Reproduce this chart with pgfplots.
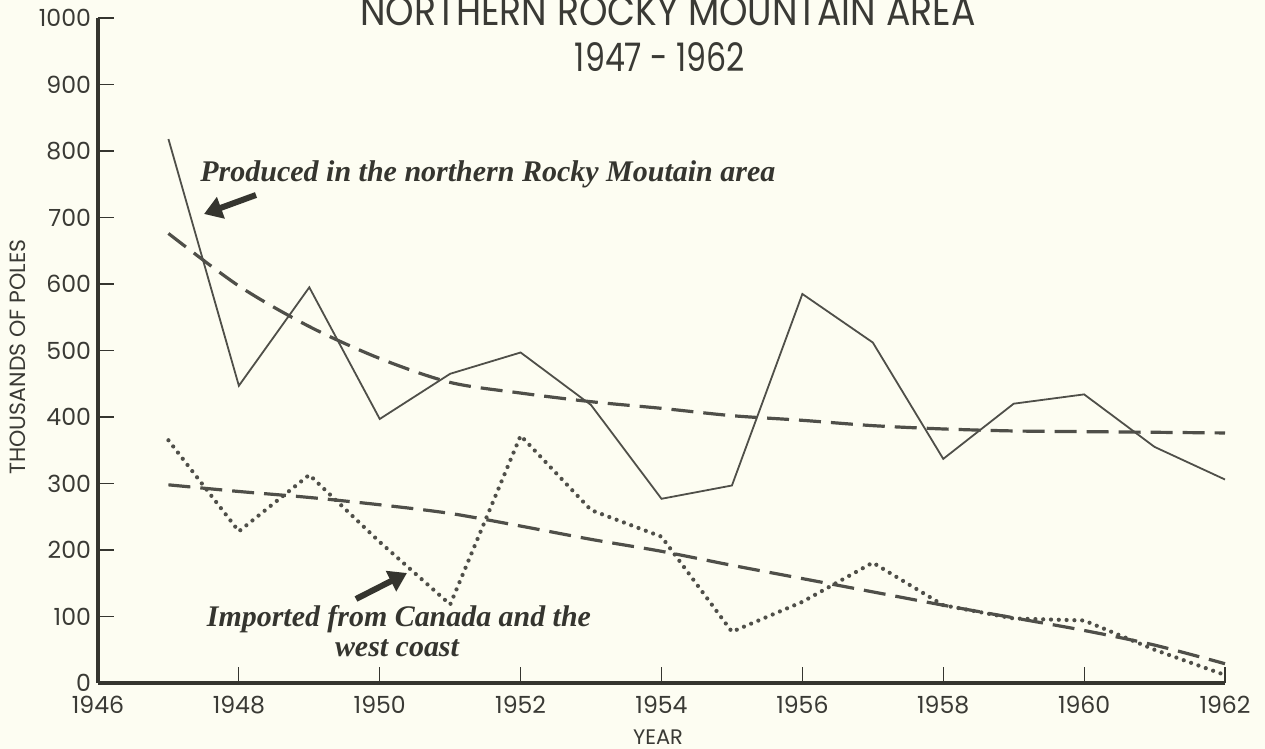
\documentclass[border=0pt]{standalone}
\usepackage{pgfplots}
\pgfplotsset{compat=1.18}
\usepackage{fontspec}
\setmainfont{Poppins}
\newfontfamily\scriptf{Liberation Serif}
\usetikzlibrary{arrows.meta}
\definecolor{bgc}{HTML}{FDFDF2}
\definecolor{axc}{HTML}{35352F}
\definecolor{linec}{HTML}{4F4F49}
\definecolor{txtc}{HTML}{3A3A35}
\definecolor{scrc}{HTML}{35352F}

\begin{document}
\begin{tikzpicture}
\begin{scope}[x=0.5pt,y=-0.5pt,shift={(-49pt,341.5pt)}]
\fill[bgc] (-5,-5) rectangle (1270,754);
\end{scope}
\begin{axis}[
  at={(0,0)}, anchor=south west, scale only axis,
  width=563.5pt, height=332.5pt,
  xmin=1946, xmax=1962, ymin=0, ymax=1000,
  axis lines=left,
  axis line style={line width=1.6pt, color=axc, -},
  xtick={1946,1948,...,1962},
  ytick={0,100,...,1000},
  tick style={line width=0.6pt, color=axc},
  major tick length=8pt, tick align=inside,
  /pgf/number format/assume math mode=true,
  /pgf/number format/1000 sep={},
  xticklabel style={font=\fontsize{11.8}{13}\selectfont, text=txtc, yshift=-3pt},
  yticklabel style={font=\fontsize{11.8}{13}\selectfont, text=txtc},
  clip=false,
]
% produced in the northern Rocky Mountain area
\addplot[color=linec, line width=0.9pt] coordinates {
 (1947,818) (1948,447) (1949,595) (1950,397) (1951,465) (1952,497)
 (1953,418) (1954,277) (1955,297) (1956,585) (1957,512) (1958,337)
 (1959,420) (1960,434) (1961,355) (1962,306)};
% trend of produced
\addplot[color=linec, line width=1.6pt, dash pattern=on 11pt off 5pt, smooth] coordinates {
 (1947,676) (1948,597) (1949,536) (1950,488) (1951,452) (1952,436)
 (1953,423) (1954,413) (1955,402) (1956,395) (1957,387) (1958,382)
 (1959,379) (1960,378) (1961,377) (1962,376)};
% imported from Canada and the west coast
\addplot[color=linec, line width=2.1pt, line cap=round, dash pattern=on 0pt off 3.9pt] coordinates {
 (1947,365) (1948,228) (1949,313) (1950,212) (1951,118) (1952,372)
 (1953,260) (1954,220) (1955,77) (1956,122) (1957,181) (1958,117)
 (1959,97) (1960,94) (1961,50) (1962,12)};
% trend of imported
\addplot[color=linec, line width=1.6pt, dash pattern=on 11pt off 5pt, smooth] coordinates {
 (1947,298) (1948,288) (1949,279) (1950,268) (1951,255) (1952,236)
 (1953,216) (1954,198) (1955,177) (1956,157) (1957,137) (1958,117)
 (1959,98) (1960,79) (1961,57) (1962,29)};
\end{axis}
\begin{scope}[x=0.5pt,y=-0.5pt,shift={(-49pt,341.5pt)}]
% titles
\node[inner sep=0pt, anchor=south, text=txtc] at (668,26)
  {\resizebox{307.5pt}{14.5pt}{NORTHERN ROCKY MOUNTAIN AREA}};
\node[inner sep=0pt, anchor=south, text=txtc] at (660,72)
  {\resizebox{85pt}{14.5pt}{1947 - 1962}};
% axis labels
\node[inner sep=0pt, rotate=90, text=txtc] at (18,357)
  {\resizebox{117.5pt}{!}{\fontsize{10}{12}\selectfont THOUSANDS OF POLES}};
\node[inner sep=0pt, text=txtc] at (658,737)
  {\fontsize{10.5}{12}\selectfont YEAR};
% annotations
\node[inner sep=0pt, anchor=base west, text=scrc] at (200,182)
  {\resizebox{287.5pt}{!}{\scriptf\bfseries\itshape Produced in the northern Rocky Moutain area}};
\node[inner sep=0pt, anchor=base, text=scrc] at (399,627)
  {\resizebox{192pt}{!}{\scriptf\bfseries\itshape Imported from Canada and the}};
\node[inner sep=0pt, anchor=base, text=scrc] at (397,657)
  {\resizebox{62pt}{!}{\scriptf\bfseries\itshape west coast}};
\draw[scrc, line width=3pt, -{Triangle[length=9pt,width=11pt]}] (256,195) -- (204,214);
\draw[scrc, line width=3pt, -{Triangle[length=9pt,width=11pt]}] (356,599) -- (407,573);
\pgfresetboundingbox
\useasboundingbox (0,0) rectangle (1265,749);
\end{scope}
\end{tikzpicture}
\end{document}
